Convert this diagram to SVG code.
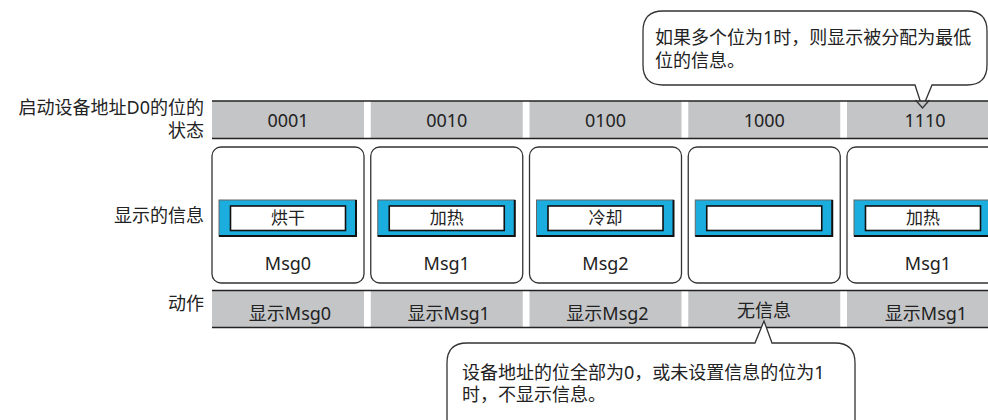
<svg xmlns="http://www.w3.org/2000/svg" width="988" height="420" viewBox="0 0 988 420">
<style>
  text { font-family: "Noto Sans", "Noto Sans CJK SC", sans-serif; fill: #222; }
  .t18 { font-size: 18px; }
  .mid { text-anchor: middle; }
  .end { text-anchor: end; }
  .cell { fill: #c4c5c7; }
  .hline { stroke: #222; stroke-width: 1.4; }
  .box { fill: #fff; stroke: #333; stroke-width: 1.3; }
  .btn { fill: #1badde; stroke: #666; stroke-width: 1; }
  .btnsh { fill: none; stroke: #111; stroke-width: 2; }
  .btnin { fill: #fff; stroke: #111; stroke-width: 1.6; }
  .bt { font-size: 17px; }
  .call { fill: #fff; stroke: #333; stroke-width: 1.3; }
</style>
<rect width="988" height="420" fill="#fff"/>

<g id="labels">
  <text class="t18 end"><tspan x="204" y="114">启动设备地址D0的位的</tspan><tspan x="204" y="136.5">状态</tspan></text>
  <text class="t18 end" x="204" y="222">显示的信息</text>
  <text class="t18 end" x="204" y="310">动作</text>
</g>

<g id="callout-top">
  <path class="call" d="M663,11 H967 Q987,11 987,31 V65 Q987,85 967,85 H932 L922.5,108 L915,85 H663 Q643,85 643,65 V31 Q643,11 663,11 Z"/>
  <text class="t18"><tspan x="655" y="44">如果多个位为1时，则显示被分配为最低</tspan><tspan x="655" y="66.5">位的信息。</tspan></text>
</g>

<g id="header-row">
  <rect class="cell" x="212" y="101" width="152" height="37.5"/>
  <rect class="cell" x="370.75" y="101" width="152" height="37.5"/>
  <rect class="cell" x="529.5" y="101" width="152" height="37.5"/>
  <rect class="cell" x="688.25" y="101" width="152" height="37.5"/>
  <rect class="cell" x="847" y="101" width="152" height="37.5"/>
  <line class="hline" x1="212" y1="101" x2="988" y2="101"/>
  <line class="hline" x1="212" y1="138.5" x2="988" y2="138.5"/>
  <polyline fill="none" stroke="#333" stroke-width="1.3" points="915.5,100 922.5,108 929.5,100"/>
  <text class="t18 mid" x="288" y="126.5">0001</text>
  <text class="t18 mid" x="446.75" y="126.5">0010</text>
  <text class="t18 mid" x="605.5" y="126.5">0100</text>
  <text class="t18 mid" x="764.25" y="126.5">1000</text>
  <text class="t18 mid" x="925" y="126.5">1110</text>
</g>

<g id="msg0">
  <rect class="box" x="212" y="147" width="152" height="136" rx="9"/>
  <rect class="btn" x="219" y="200" width="137" height="36"/>
  <polyline class="btnsh" points="219,236 356,236 356,200"/>
  <rect class="btnin" x="230.5" y="206" width="115" height="24.5"/>
  <text class="bt mid" x="288" y="224">烘干</text>
  <text class="t18 mid" x="288" y="270">Msg0</text>
</g>
<g id="msg1">
  <rect class="box" x="370.75" y="147" width="152" height="136" rx="9"/>
  <rect class="btn" x="377.75" y="200" width="137" height="36"/>
  <polyline class="btnsh" points="377.75,236 514.75,236 514.75,200"/>
  <rect class="btnin" x="389.25" y="206" width="115" height="24.5"/>
  <text class="bt mid" x="446.75" y="224">加热</text>
  <text class="t18 mid" x="446.75" y="270">Msg1</text>
</g>
<g id="msg2">
  <rect class="box" x="529.5" y="147" width="152" height="136" rx="9"/>
  <rect class="btn" x="536.5" y="200" width="137" height="36"/>
  <polyline class="btnsh" points="536.5,236 673.5,236 673.5,200"/>
  <rect class="btnin" x="548" y="206" width="115" height="24.5"/>
  <text class="bt mid" x="605.5" y="224">冷却</text>
  <text class="t18 mid" x="605.5" y="270">Msg2</text>
</g>
<g id="msg-none">
  <rect class="box" x="688.25" y="147" width="152" height="136" rx="9"/>
  <rect class="btn" x="695.25" y="200" width="137" height="36"/>
  <polyline class="btnsh" points="695.25,236 832.25,236 832.25,200"/>
  <rect class="btnin" x="706.75" y="206" width="115" height="24.5"/>
</g>
<g id="msg1b">
  <rect class="box" x="847" y="147" width="152" height="136" rx="9"/>
  <rect class="btn" x="854" y="200" width="137" height="36"/>
  <polyline class="btnsh" points="854,236 991,236 991,200"/>
  <rect class="btnin" x="865.5" y="206" width="115" height="24.5"/>
  <text class="bt mid" x="923" y="224">加热</text>
  <text class="t18 mid" x="928" y="270">Msg1</text>
</g>

<g id="action-row">
  <rect class="cell" x="212" y="290.5" width="152" height="37"/>
  <rect class="cell" x="370.75" y="290.5" width="152" height="37"/>
  <rect class="cell" x="529.5" y="290.5" width="152" height="37"/>
  <rect class="cell" x="688.25" y="290.5" width="152" height="37"/>
  <rect class="cell" x="847" y="290.5" width="152" height="37"/>
  <line class="hline" x1="212" y1="290.5" x2="988" y2="290.5"/>
  <line class="hline" x1="212" y1="327.5" x2="988" y2="327.5"/>
  <text class="t18 mid" x="290" y="320">显示Msg0</text>
  <text class="t18 mid" x="448.75" y="320">显示Msg1</text>
  <text class="t18 mid" x="607.5" y="320">显示Msg2</text>
  <text class="t18 mid" x="764" y="317">无信息</text>
  <text class="t18 mid" x="926" y="320">显示Msg1</text>
</g>

<g id="callout-bottom">
  <path class="call" d="M467,343 H755 L764,321 L772,343 H835 Q855,343 855,363 V440 H447 V363 Q447,343 467,343 Z"/>
  <text class="t18"><tspan x="462" y="378.5">设备地址的位全部为0，或未设置信息的位为1</tspan><tspan x="462" y="401">时，不显示信息。</tspan></text>
</g>
</svg>
